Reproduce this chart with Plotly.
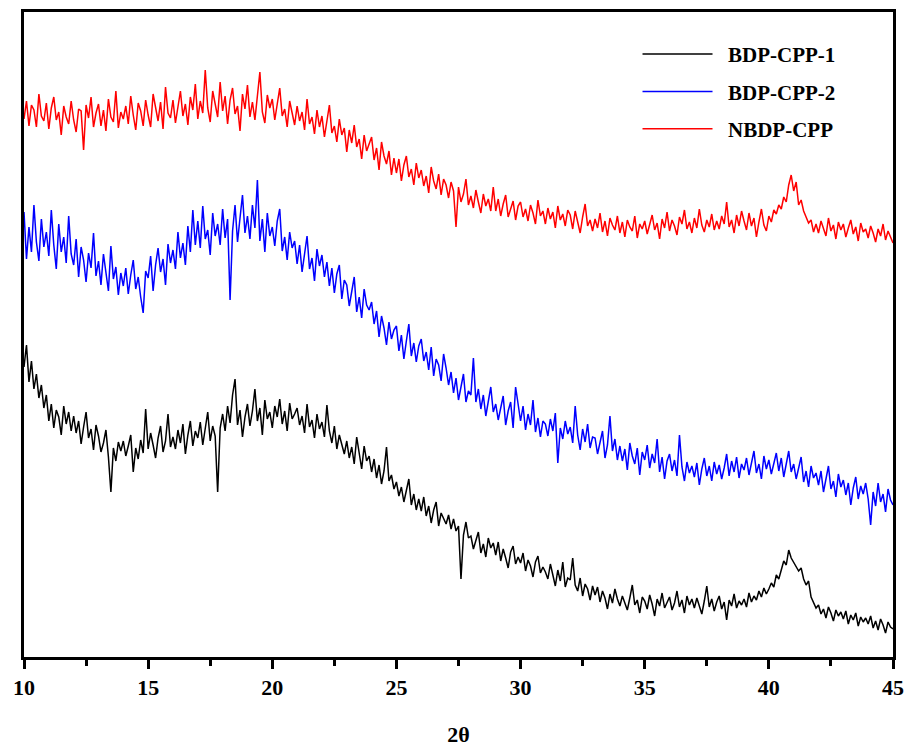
import plotly.graph_objects as go

# 2-theta sampling grid (degrees), step 0.1 from 10 to 45
two_theta = [round(10 + 0.1 * i, 1) for i in range(351)]

# Intensities (a.u., stacked/offset as in the figure)
bdp_cpp_1 = [
    290, 312, 275, 296, 268, 283, 259, 272, 249, 262,
    236, 253, 229, 247, 240, 222, 251, 233, 245, 226,
    241, 224, 236, 213, 230, 245, 219, 228, 207, 232,
    221, 205, 214, 227, 200, 165, 209, 196, 215, 206,
    216, 201, 211, 222, 185, 209, 198, 217, 204, 248,
    208, 224, 212, 199, 219, 231, 205, 216, 243, 210,
    220, 208, 227, 214, 233, 203, 222, 236, 211, 226,
    219, 235, 212, 228, 245, 216, 231, 221, 165, 229,
    243, 226, 251, 234, 262, 278, 232, 247, 220, 240,
    253, 231, 246, 268, 236, 249, 222, 257, 238, 245,
    229, 251, 240, 258, 233, 246, 226, 254, 238, 243,
    249, 232, 241, 224, 253, 230, 237, 219, 243, 228,
    235, 220, 252, 226, 214, 231, 208, 222, 213, 203,
    216, 199, 210, 193, 220, 204, 188, 211, 196, 201,
    185, 198, 179, 192, 173, 186, 210, 176, 182, 168,
    175, 161, 170, 155, 168, 178, 152, 163, 147, 158,
    146, 160, 141, 151, 134, 147, 155, 131, 144, 138,
    133, 142, 128, 138, 126, 131, 78, 122, 135, 119,
    121, 108, 116, 125, 104, 113, 100, 119, 109, 114,
    102, 115, 96, 108, 99, 89, 105, 111, 93, 100,
    94, 104, 86, 97, 91, 80, 95, 101, 84, 90,
    85, 78, 93, 82, 71, 87, 76, 95, 70, 79,
    77, 99, 72, 66, 79, 61, 73, 68, 57, 71,
    62, 70, 55, 66, 59, 48, 63, 54, 68, 58,
    51, 61, 53, 47, 59, 72, 52, 57, 44, 60,
    56, 48, 62, 53, 41, 58, 51, 64, 49, 55,
    60, 47, 54, 66, 50, 57, 44, 61, 52, 58,
    49, 59, 52, 43, 56, 71, 50, 58, 46, 55,
    61, 48, 55, 37, 57, 51, 63, 49, 56, 52,
    58, 50, 64, 55, 61, 57, 66, 60, 69, 63,
    68, 74, 70, 82, 78, 88, 96, 92, 107, 99,
    95, 90, 86, 89, 78, 72, 76, 60, 54, 49,
    52, 43, 48, 39, 50, 44, 36, 47, 41, 45,
    38, 46, 33, 42, 37, 44, 31, 40, 35, 39,
    33, 41, 29, 36, 27, 38, 32, 24, 35, 30,
    28,
]

bdp_cpp_2 = [
    445, 398, 430, 405, 452, 415, 396, 438, 410, 425,
    401, 447, 412, 388, 433, 405, 420, 394, 441, 403,
    392, 418, 380, 410, 397, 375, 404, 389, 424, 381,
    396, 372, 403, 385, 366, 411, 378, 390, 362, 384,
    371, 389, 363, 382, 397, 368, 380, 360, 344, 386,
    379, 401, 366, 392, 409, 385, 398, 372, 413, 394,
    407, 388, 425, 399, 414, 392, 431, 405, 447, 412,
    436, 409, 451, 418, 427, 402, 444, 421, 433, 412,
    448, 419, 438, 357, 426, 452, 415, 439, 462, 424,
    441, 418, 452, 429, 477, 416, 438, 405, 444, 421,
    430, 411, 436, 448, 406, 420, 397, 425, 409, 416,
    393, 412, 385, 403, 421, 388, 399, 376, 408, 391,
    402, 380, 395, 371, 389, 364, 383, 392, 358, 377,
    372, 351, 366, 380, 345, 360, 339, 368, 352, 347,
    355, 333, 346, 320, 341, 329, 312, 335, 318, 327,
    331, 306, 322, 298, 316, 333, 301, 314, 295, 311,
    318, 296, 305, 287, 310, 281, 298, 292, 276, 303,
    289, 272, 285, 264, 279, 257, 270, 283, 255, 266,
    262, 299, 255, 268, 248, 262, 241, 257, 270, 245,
    253, 237, 249, 261, 232, 246, 255, 229, 270, 250,
    236, 251, 227, 243, 232, 257, 225, 239, 220, 236,
    233, 221, 238, 226, 244, 194, 229, 218, 236, 223,
    230, 214, 251, 222, 207, 228, 215, 233, 209, 220,
    219, 203, 215, 226, 199, 212, 241, 206, 218, 197,
    211, 196, 208, 187, 214, 201, 193, 209, 182, 205,
    197, 212, 189, 203, 194, 218, 185, 200, 178, 196,
    203, 186, 197, 181, 222, 190, 176, 195, 184, 191,
    180, 194, 172, 188, 199, 181, 191, 176, 195, 183,
    192, 178, 189, 203, 181, 196, 185, 200, 179, 193,
    187, 199, 182, 195, 206, 184, 193, 178, 201, 188,
    197, 183, 194, 204, 186, 199, 180, 192, 206, 185,
    193, 178, 189, 200, 175, 186, 170, 191, 179, 184,
    172, 186, 165, 180, 191, 168, 176, 160, 183, 170,
    177, 162, 174, 152, 169, 180, 158, 171, 163, 174,
    158, 132, 165, 151, 174, 155, 163, 145, 168, 157,
    152,
]

nbdp_cpp = [
    538, 556, 531, 552, 547, 530, 563, 541, 536, 554,
    528, 549, 560, 537, 545, 522, 551, 540, 533, 556,
    537, 525, 548, 546, 507, 552, 539, 560, 530, 544,
    553, 531, 547, 526, 558, 540, 535, 566, 529, 545,
    538, 551, 533, 561, 542, 527, 554, 546, 531, 557,
    542, 530, 563, 549, 536, 555, 528, 570, 544, 539,
    557, 534, 549, 566, 541, 553, 532, 560, 547, 573,
    538, 556, 544, 587, 549, 535, 566, 552, 540, 575,
    546, 561, 533, 557, 569, 543, 551, 526, 563, 548,
    572, 540, 555, 537, 560, 585, 545, 534, 562, 549,
    558, 537, 553, 569, 541, 548, 530, 556, 544, 532,
    551, 536, 545, 527, 558, 533, 540, 523, 547, 530,
    541, 520, 536, 552, 524, 531, 515, 538, 522, 529,
    505, 527, 514, 532, 510, 518, 498, 522, 506, 513,
    520, 497, 509, 487, 515, 501, 493, 506, 482, 499,
    484, 498, 476, 492, 501, 480, 488, 472, 494, 479,
    487, 471, 481, 464, 490, 476, 468, 483, 462, 478,
    472, 459, 475, 466, 430, 470, 455, 463, 478, 452,
    461, 449, 467, 455, 444, 463, 451, 458, 446, 470,
    446, 458, 441, 453, 462, 440, 449, 456, 437, 451,
    455, 440, 448, 436, 452, 444, 433, 457, 441, 446,
    433, 449, 438, 445, 429, 451, 437, 443, 431, 447,
    442, 428, 446, 435, 424, 440, 453, 431, 437, 426,
    438, 429, 444, 425, 436, 421, 439, 432, 427, 441,
    424, 435, 420, 437, 430, 426, 441, 419, 433, 428,
    436, 423, 432, 442, 427, 434, 418, 438, 429, 445,
    426, 437, 431, 422, 440, 433, 447, 428, 435, 424,
    439, 429, 448, 432, 425, 437, 430, 443, 427, 436,
    428, 441, 433, 455, 430, 437, 424, 442, 431, 446,
    436, 427, 444, 431, 439, 420, 435, 448, 432, 426,
    441, 435, 447, 443, 452, 448, 460, 455, 472, 482,
    466, 475, 452, 457, 446, 440, 434, 437, 425, 433,
    424, 436, 428, 421, 439, 426, 432, 418, 435, 427,
    433, 420, 429, 437, 423, 430, 416, 434, 425, 428,
    419, 431, 424, 415, 428, 421, 433, 417, 426, 420,
    414,
]

series_names = ["BDP-CPP-1", "BDP-CPP-2", "NBDP-CPP"]
series_values = [bdp_cpp_1, bdp_cpp_2, nbdp_cpp]
series_colors = ["#000000", "#0000ff", "#ff0000"]

x_ticks = [10, 15, 20, 25, 30, 35, 40, 45]

fig = go.Figure()
for i, (name, vals, col) in enumerate(zip(series_names, series_values, series_colors)):
    fig.add_trace(go.Scatter(
        x=two_theta, y=vals, mode="lines", name="  " + name,
        line=dict(color=col, width=1.5),
        legendgroup=f"g{i}",
    ))

serif = "Liberation Serif"
fig.update_layout(
    width=914, height=747,
    margin=dict(l=24, r=21, t=12, b=90),
    paper_bgcolor="white", plot_bgcolor="white",
    showlegend=True,
    legend=dict(
        x=0.706, y=0.966, xanchor="left", yanchor="top",
        font=dict(family=serif, size=21, color="black", weight="bold"),
        bgcolor="rgba(0,0,0,0)", borderwidth=0,
        tracegroupgap=7, itemwidth=70,
    ),
    xaxis=dict(
        range=[10, 45], tickvals=x_ticks,
        ticks="outside", ticklen=9, tickwidth=3, tickcolor="black",
        minor=dict(dtick=2.5, tick0=10, ticks="outside", ticklen=6, tickwidth=3, tickcolor="black"),
        showline=True, mirror=True, linewidth=3, linecolor="black",
        showgrid=False, zeroline=False, automargin=False,
        tickfont=dict(family=serif, size=22, color="black", weight="bold"),
        title=dict(text="2θ", font=dict(family=serif, size=22, color="black", weight="bold"), standoff=30),
    ),
    yaxis=dict(
        range=[0, 645], showticklabels=False, ticks="",
        showline=True, mirror=True, linewidth=3, linecolor="black",
        showgrid=False, zeroline=False, automargin=False,
    ),
)

fig.write_html("out.html")
